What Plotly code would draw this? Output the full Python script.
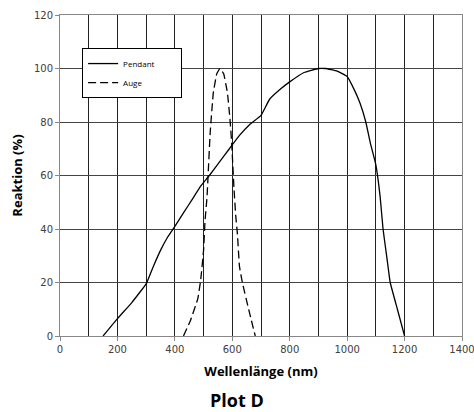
import plotly.graph_objects as go

pendant_x = [150, 200, 250, 300, 325, 350, 375, 400, 430, 460, 490, 520, 555, 590, 625, 660, 700, 730, 770, 800, 850, 900, 925, 965, 1000, 1025, 1045, 1065, 1080, 1100, 1115, 1125, 1140, 1150, 1175, 1200]
pendant_y = [0, 6.5, 12.5, 19.5, 26, 32, 37, 41, 46, 51, 56, 60, 65, 70, 75, 79, 82.5, 88.5, 92.5, 95, 98.5, 100, 100, 99, 97, 92, 87, 80, 72.5, 64, 52, 40, 28, 20, 10, 0]

auge_x = [430, 455, 480, 490, 500, 505, 512, 523, 534, 546, 557, 570, 583, 592, 598, 606, 612, 618, 625, 635, 657, 680]
auge_y = [0, 6, 14, 21, 32, 43, 52, 76, 91, 98, 100, 98, 91, 81, 72, 55, 45, 38, 26, 20, 10, 0]

series_names = ["Pendant", "Auge"]
pad = "\u00a0" * 10

fig = go.Figure()
fig.add_trace(go.Scatter(x=pendant_x, y=pendant_y, mode="lines", name=series_names[0] + pad,
                         line=dict(color="black", width=1.3, shape="spline", smoothing=0.3)))
fig.add_trace(go.Scatter(x=auge_x, y=auge_y, mode="lines", name=series_names[1] + pad,
                         line=dict(color="black", width=1.3, dash="8px,4px", shape="spline", smoothing=0.3)))

tickfont = dict(family="DejaVu Sans", size=10, color="#404040")
titlefont = dict(family="Open Sans", size=13, color="black", weight="bold")

fig.update_layout(
    width=474, height=412,
    margin=dict(l=60, r=12, t=15, b=76, autoexpand=False),
    paper_bgcolor="white", plot_bgcolor="white",
    showlegend=True,
    legend=dict(x=0.055, y=0.897, xanchor="left", yanchor="top",
                bgcolor="white", bordercolor="black", borderwidth=1,
                font=dict(family="Open Sans", size=8, color="black"),
                itemwidth=30, tracegroupgap=0),
    xaxis=dict(range=[0, 1400], dtick=200, tick0=0, showgrid=True, gridcolor="#222", gridwidth=1,
               minor=dict(dtick=100, showgrid=True, gridcolor="#222", gridwidth=1),
               showline=True, mirror=True, linecolor="#888", linewidth=1,
               ticks="outside", ticklen=4, tickcolor="#888", tickfont=tickfont,
               ticklabeloverflow="allow",
               zeroline=False, automargin=False,
               title=dict(text="Wellenlänge (nm)", font=titlefont, standoff=12)),
    yaxis=dict(range=[0, 120], dtick=20, tick0=0, showgrid=True, gridcolor="#444", gridwidth=1,
               showline=True, mirror=True, linecolor="#888", linewidth=1,
               ticks="outside", ticklen=4, tickcolor="#888", tickfont=tickfont,
               ticklabeloverflow="allow",
               zeroline=False, automargin=False,
               title=dict(text="Reaktion (%)", font=titlefont, standoff=8)),
    annotations=[dict(text="Plot D", xref="paper", yref="paper", x=0.44, y=-0.2,
                      xanchor="center", yanchor="middle", showarrow=False,
                      font=dict(family="Open Sans", size=18, color="black", weight="bold"))],
)

fig.write_html("out.html", config={"displayModeBar": False},
               post_script="document.body.style.margin='0px';document.body.style.overflow='hidden';")
